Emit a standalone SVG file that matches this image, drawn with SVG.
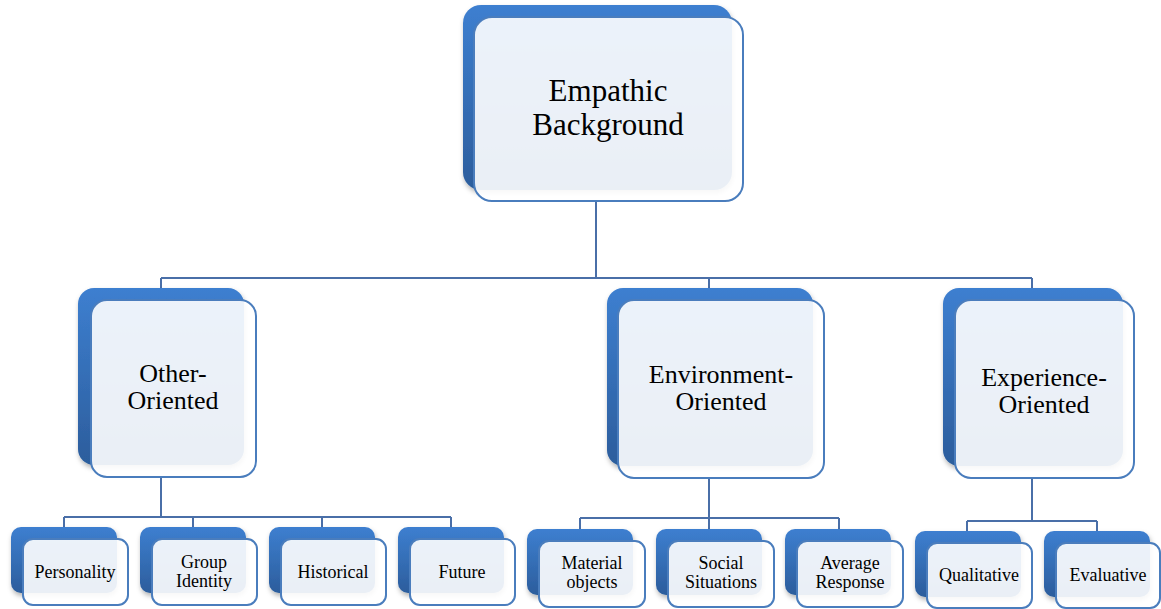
<svg xmlns="http://www.w3.org/2000/svg" width="1161" height="609" viewBox="0 0 1161 609">
  <defs>
    <linearGradient id="backGrad" x1="0" y1="0" x2="0" y2="1">
      <stop offset="0" stop-color="#3d7fd0"/>
      <stop offset="1" stop-color="#2c5d9c"/>
    </linearGradient>
    <filter id="shadow" x="-10%" y="-10%" width="125%" height="125%">
      <feDropShadow dx="1" dy="3" stdDeviation="2.5" flood-color="#000" flood-opacity="0.3"/>
    </filter>
  </defs>
  <style>
    .back { fill: url(#backGrad); filter: url(#shadow); }
    .front { fill: #ffffff; fill-opacity: 0.9; stroke: #4a7dbd; stroke-width: 2; }
    .conn { fill: none; stroke: #4a6fa8; stroke-width: 2; }
    text { font-family: "Liberation Serif", "Times New Roman", serif; fill: #000; text-anchor: middle; }
    .t1 { font-size: 31px; }
    .t2 { font-size: 26px; }
    .t3 { font-size: 18px; }
  </style>
  <rect width="1161" height="609" fill="#ffffff"/>

  <g id="connectors">
    <path class="conn" d="M596 200 V278 M161 278 H1032 M161 278 V290 M709 278 V290 M1032 278 V290"/>
    <path class="conn" d="M161 477 V517 M64 517 H451 M64 517 V529 M193 517 V529 M322 517 V529 M451 517 V529"/>
    <path class="conn" d="M709 478 V518 M580 518 H839 M580 518 V531 M709 518 V531 M839 518 V531"/>
    <path class="conn" d="M1032 478 V521 M967 521 H1097 M967 521 V533 M1097 521 V533"/>
  </g>

  <g id="empathic-background">
    <rect class="back" x="463" y="5" width="269" height="185" rx="18"/>
    <rect class="front" x="474" y="17" width="269" height="184" rx="18"/>
    <text class="t1" x="608" y="101">Empathic</text>
    <text class="t1" x="608" y="135">Background</text>
  </g>

  <g id="other-oriented">
    <rect class="back" x="78" y="288" width="166" height="177" rx="16"/>
    <rect class="front" x="91" y="300" width="165" height="177" rx="16"/>
    <text class="t2" x="173" y="382">Other-</text>
    <text class="t2" x="173" y="409">Oriented</text>
  </g>

  <g id="environment-oriented">
    <rect class="back" x="607" y="288" width="206" height="178" rx="16"/>
    <rect class="front" x="618" y="300" width="206" height="178" rx="16"/>
    <text class="t2" x="721" y="383">Environment-</text>
    <text class="t2" x="721" y="410">Oriented</text>
  </g>

  <g id="experience-oriented">
    <rect class="back" x="943" y="288" width="180" height="178" rx="16"/>
    <rect class="front" x="955" y="300" width="179" height="178" rx="16"/>
    <text class="t2" x="1044" y="386">Experience-</text>
    <text class="t2" x="1044" y="413">Oriented</text>
  </g>

  <g id="personality">
    <rect class="back" x="11" y="527" width="106" height="66" rx="10"/>
    <rect class="front" x="23" y="539" width="105" height="66" rx="10"/>
    <text class="t3" x="75" y="578">Personality</text>
  </g>

  <g id="group-identity">
    <rect class="back" x="140" y="527" width="106" height="66" rx="10"/>
    <rect class="front" x="152" y="539" width="105" height="66" rx="10"/>
    <text class="t3" x="204" y="568">Group</text>
    <text class="t3" x="204" y="587">Identity</text>
  </g>

  <g id="historical">
    <rect class="back" x="269" y="527" width="106" height="66" rx="10"/>
    <rect class="front" x="281" y="539" width="105" height="66" rx="10"/>
    <text class="t3" x="333" y="578">Historical</text>
  </g>

  <g id="future">
    <rect class="back" x="398" y="527" width="106" height="66" rx="10"/>
    <rect class="front" x="410" y="539" width="105" height="66" rx="10"/>
    <text class="t3" x="462" y="578">Future</text>
  </g>

  <g id="material-objects">
    <rect class="back" x="527" y="529" width="106" height="66" rx="10"/>
    <rect class="front" x="539" y="541" width="106" height="66" rx="10"/>
    <text class="t3" x="592" y="569">Material</text>
    <text class="t3" x="592" y="588">objects</text>
  </g>

  <g id="social-situations">
    <rect class="back" x="656" y="529" width="106" height="66" rx="10"/>
    <rect class="front" x="668" y="541" width="106" height="66" rx="10"/>
    <text class="t3" x="721" y="569">Social</text>
    <text class="t3" x="721" y="588">Situations</text>
  </g>

  <g id="average-response">
    <rect class="back" x="785" y="529" width="106" height="66" rx="10"/>
    <rect class="front" x="797" y="541" width="106" height="66" rx="10"/>
    <text class="t3" x="850" y="569">Average</text>
    <text class="t3" x="850" y="588">Response</text>
  </g>

  <g id="qualitative">
    <rect class="back" x="915" y="531" width="106" height="66" rx="10"/>
    <rect class="front" x="927" y="543" width="105" height="65" rx="10"/>
    <text class="t3" x="979" y="581">Qualitative</text>
  </g>

  <g id="evaluative">
    <rect class="back" x="1044" y="531" width="106" height="66" rx="10"/>
    <rect class="front" x="1056" y="543" width="104" height="65" rx="10"/>
    <text class="t3" x="1108" y="581">Evaluative</text>
  </g>
</svg>
